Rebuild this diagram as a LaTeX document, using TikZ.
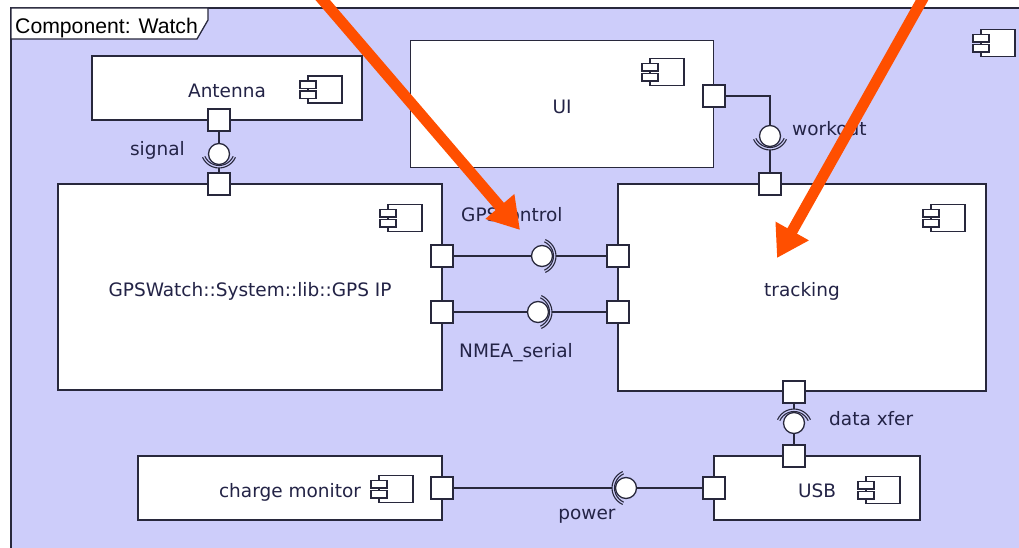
\documentclass[tikz,border=0pt]{standalone}
\usepackage{fontspec}
\usetikzlibrary{arrows.meta}
\newfontfamily\dvfont{DejaVu Sans}
\newfontfamily\arfont{Liberation Sans}
\definecolor{framefill}{RGB}{205,205,250}
\definecolor{linec}{RGB}{40,40,60}
\definecolor{textc}{RGB}{35,35,70}
\definecolor{arrowc}{RGB}{255,79,0}
\tikzset{
  comp/.style={draw=linec, fill=white, line width=1.3pt, inner sep=0pt,
    font=\dvfont\fontsize{18.5}{20}\selectfont, text=textc, text height=18.5pt, text depth=0pt},
  port/.style={draw=linec, fill=white, line width=1.3pt, minimum size=22pt, inner sep=0pt},
  ball/.style={circle, draw=linec, fill=white, line width=1.3pt, minimum size=21pt, inner sep=0pt},
  conn/.style={draw=linec, line width=1.3pt},
  sock/.style={draw=linec, line width=1.1pt},
  lbl/.style={font=\dvfont\fontsize{18.5}{20}\selectfont, text=textc, inner sep=0pt},
  bigarrow/.style={draw=arrowc, line width=11pt, -{Triangle[length=31pt,width=36pt]}},
  cicon/.pic={
    \draw[draw=linec, fill=white, line width=1.2pt] (-17,-13.5) rectangle (17,13.5);
    \draw[draw=linec, fill=white, line width=1.2pt] (-25,-8.5) rectangle (-9,-1);
    \draw[draw=linec, fill=white, line width=1.2pt] (-25,1.5) rectangle (-9,9);
  }
}
\begin{document}
\begin{tikzpicture}[x=1pt, y=-1pt]
\useasboundingbox (0,0) rectangle (1019,548);
\clip (0,0) rectangle (1019,548);
\fill[white] (0,0) rectangle (1019,548);
% frame
\draw[draw=linec, fill=framefill, line width=1.3pt] (11,8) rectangle (1040,570);
\draw[draw=linec, fill=white, line width=1.3pt] (11,8) -- (208,8) -- (208,20) -- (197,39) -- (11,39) -- cycle;
\node[anchor=west, inner sep=0pt, font=\arfont\fontsize{21.2}{23}\selectfont, text=black] (title) at (15,28) {Component: Watch};
\pic at (998,43) {cicon};

% components
\node[comp, minimum width=270pt, minimum height=64pt] (antenna) at (227,88) {Antenna};
\node[comp, minimum width=303pt, minimum height=127pt] (ui) at (562,104) {UI};
\node[comp, minimum width=384pt, minimum height=206pt] (gps) at (250,287) {GPSWatch::System::lib::GPS IP};
\node[comp, minimum width=368pt, minimum height=207pt] (tracking) at (802,287.5) {tracking};
\node[comp, minimum width=304pt, minimum height=64pt] (charge) at (290,488) {charge monitor};
\node[comp, minimum width=206pt, minimum height=64pt] (usb) at (817,488) {USB};

% icons
\pic at (325,89.5) {cicon};
\pic at (667,72) {cicon};
\pic at (405,218) {cicon};
\pic at (948,218) {cicon};
\pic at (396,489) {cicon};
\pic at (883,490) {cicon};

% ports
\node[port] (pa) at (219,120) {};
\node[port] (pg1) at (219,184) {};
\node[port] (pu) at (714,96) {};
\node[port] (pt1) at (770,184) {};
\node[port] (pg2) at (442,256) {};
\node[port] (pt2) at (618,256) {};
\node[port] (pg3) at (442,312) {};
\node[port] (pt3) at (618,312) {};
\node[port] (pt4) at (794,392) {};
\node[port] (pb1) at (794,456) {};
\node[port] (pc) at (442,488) {};
\node[port] (pb2) at (714,488) {};

% balls (positions)
\coordinate (sigc) at (219,154);
\coordinate (wkc) at (770,136);
\coordinate (gcc) at (542,256);
\coordinate (nmc) at (538,312);
\coordinate (dxc) at (794,423);
\coordinate (pwc) at (626,488);

% socket extremes
\coordinate (sigE) at ([yshift=-14pt]sigc);
\coordinate (wkE) at ([yshift=-14pt]wkc);
\coordinate (gcE) at ([xshift=14pt]gcc);
\coordinate (nmE) at ([xshift=14pt]nmc);
\coordinate (dxE) at ([yshift=14pt]dxc);
\coordinate (pwE) at ([xshift=-14pt]pwc);

% connectors
\draw[conn] (pa.south) -- (sigc);
\draw[conn] (sigE) -- (pg1.north);
\draw[conn] (pu.east) -| (wkc);
\draw[conn] (wkE) -- (pt1.north);
\draw[conn] (pg2.east) -- (gcc);
\draw[conn] (gcE) -- (pt2.west);
\draw[conn] (pg3.east) -- (nmc);
\draw[conn] (nmE) -- (pt3.west);
\draw[conn] (pt4.south) -- (dxE);
\draw[conn] (dxc) -- (pb1.north);
\draw[conn] (pc.east) -- (pwE);
\draw[conn] (pwc) -- (pb2.west);

% sockets
\foreach \c/\sx/\sy/\a in {sigc/0/4/270, wkc/0/4/270, gcc/-4/0/0, nmc/-4/0/0, dxc/0/-4/90, pwc/4/0/180}{
  \draw[sock] ([xshift=\sx pt, yshift=\sy pt]\c) ++(\a-66:15.5pt) arc[start angle=\a-66, end angle=\a+66, radius=15.5pt];
  \draw[sock] ([xshift=\sx pt, yshift=\sy pt]\c) ++(\a-66:18pt) arc[start angle=\a-66, end angle=\a+66, radius=18pt];
}

% balls
\node[ball] (sig) at (sigc) {};
\node[ball] (wk) at (wkc) {};
\node[ball] (gc) at (gcc) {};
\node[ball] (nm) at (nmc) {};
\node[ball] (dx) at (dxc) {};
\node[ball] (pw) at (pwc) {};

% labels
\node[lbl, anchor=east] (lsig) at (185,150) {signal};
\node[lbl, anchor=west] (lwk) at (792,128.5) {workout};
\node[lbl, anchor=west] (lgc) at (461,214.5) {GPScontrol};
\node[lbl, anchor=west] (lnm) at (459,353) {NMEA\_serial};
\node[lbl, anchor=west] (ldx) at (829,419) {data xfer};
\node[lbl] (lpw) at (587,516) {power};

% orange arrows
\coordinate (a1s) at (303,-23);
\coordinate (a1e) at (520,230);
\coordinate (a2s) at (935,-23);
\coordinate (a2e) at (777,258);
\draw[bigarrow] (a1s) -- (a1e);
\draw[bigarrow] (a2s) -- (a2e);
\end{tikzpicture}
\end{document}
